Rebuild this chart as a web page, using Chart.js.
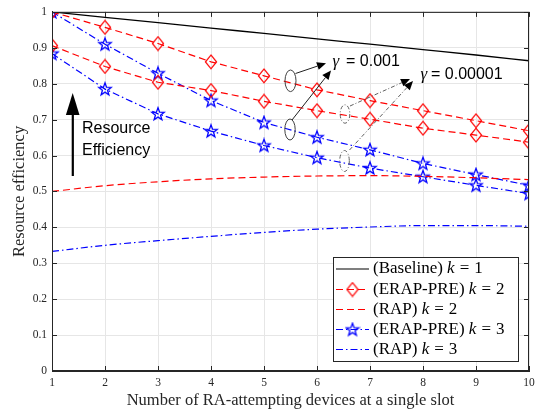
<!DOCTYPE html>
<html>
<head>
<meta charset="utf-8">
<script src="https://cdn.jsdelivr.net/npm/chart.js@4.4.1/dist/chart.umd.min.js"></script>
<style>
  html, body { margin: 0; padding: 0; background: #ffffff; }
  #wrap { width: 542px; height: 412px; }
</style>
</head>
<body>
<div id="wrap"><canvas id="c" width="542" height="412"></canvas></div>
<script>
// ---- data ----
const xValues = [1, 2, 3, 4, 5, 6, 7, 8, 9, 10];
const xTickLabels = ['1', '2', '3', '4', '5', '6', '7', '8', '9', '10'];
const yTickLabels = ['0', '0.1', '0.2', '0.3', '0.4', '0.5', '0.6', '0.7', '0.8', '0.9', '1'];

const baselineK1 = [1.0, 0.985, 0.970, 0.955, 0.940, 0.925, 0.910, 0.895, 0.880, 0.864];
const erapK2Gamma3 = [1.0, 0.957, 0.912, 0.861, 0.822, 0.783, 0.753, 0.725, 0.697, 0.669];
const erapK2Gamma5 = [0.906, 0.848, 0.804, 0.781, 0.751, 0.725, 0.701, 0.676, 0.657, 0.637];
const rapK2 = [0.500, 0.516, 0.527, 0.535, 0.540, 0.543, 0.544, 0.542, 0.538, 0.533];
const erapK3Gamma3 = [1.0, 0.910, 0.829, 0.753, 0.692, 0.651, 0.616, 0.578, 0.547, 0.517];
const erapK3Gamma5 = [0.884, 0.785, 0.716, 0.668, 0.628, 0.594, 0.565, 0.541, 0.517, 0.494];
const rapK3 = [0.333, 0.350, 0.363, 0.375, 0.386, 0.395, 0.401, 0.405, 0.405, 0.403];

const legendNames = ['(Baseline)', '(ERAP-PRE)', '(RAP)', '(ERAP-PRE)', '(RAP)'];
const legendK = ['1', '2', '2', '3', '3'];
const xTitle = 'Number of RA-attempting devices at a single slot';
const yTitle = 'Resource efficiency';
const arrowText = ['Resource', 'Efficiency'];
const gammaSymbol = 'γ';
const gammaValues = ['= 0.001', '= 0.00001'];

// ---- styles ----
const RED = 'rgb(255,0,0)';
const BLUE = 'rgb(0,0,255)';
const SERIF = '"Liberation Serif", "Times New Roman", serif';
const SANS = '"Liberation Sans", Arial, sans-serif';
const DASH = [7, 4];
const DASHDOT = [7, 3, 1.5, 3];

function makeDiamond() {
  const c = document.createElement('canvas');
  c.width = 14; c.height = 16;
  const g = c.getContext('2d');
  g.strokeStyle = RED; g.lineWidth = 1.2;
  g.beginPath();
  g.moveTo(7, 1.2); g.lineTo(12.6, 8); g.lineTo(7, 14.8); g.lineTo(1.4, 8); g.closePath();
  g.stroke();
  return c;
}
function makeStar() {
  const c = document.createElement('canvas');
  c.width = 16; c.height = 16;
  const g = c.getContext('2d');
  g.strokeStyle = BLUE; g.lineWidth = 1.3;
  const R = 6.6, r = 2.7, cx = 8, cy = 8.4;
  g.beginPath();
  for (let i = 0; i < 10; i++) {
    const a = -Math.PI / 2 + i * Math.PI / 5;
    const rad = i % 2 === 0 ? R : r;
    const px = cx + rad * Math.cos(a), py = cy + rad * Math.sin(a);
    if (i === 0) g.moveTo(px, py); else g.lineTo(px, py);
  }
  g.closePath();
  g.stroke();
  return c;
}
const diamondImg = makeDiamond();
const starImg = makeStar();

function pts(arr) { return xValues.map((x, i) => ({ x: x, y: arr[i] })); }

const datasets = [
  { data: pts(baselineK1), borderColor: '#000', borderWidth: 1.3, pointRadius: 0, cubicInterpolationMode: 'monotone' },
  { data: pts(erapK2Gamma3), borderColor: RED, borderWidth: 1.2, borderDash: DASH, pointStyle: diamondImg, pointRadius: 7 },
  { data: pts(erapK2Gamma5), borderColor: RED, borderWidth: 1.2, borderDash: DASH, pointStyle: diamondImg, pointRadius: 7 },
  { data: pts(rapK2), borderColor: RED, borderWidth: 1.2, borderDash: DASH, pointRadius: 0, cubicInterpolationMode: 'monotone' },
  { data: pts(erapK3Gamma3), borderColor: BLUE, borderWidth: 1.2, borderDash: DASHDOT, pointStyle: starImg, pointRadius: 7 },
  { data: pts(erapK3Gamma5), borderColor: BLUE, borderWidth: 1.2, borderDash: DASHDOT, pointStyle: starImg, pointRadius: 7 },
  { data: pts(rapK3), borderColor: BLUE, borderWidth: 1.2, borderDash: DASHDOT, pointRadius: 0, cubicInterpolationMode: 'monotone' }
];
datasets.forEach(d => { d.fill = false; d.backgroundColor = 'transparent'; d.tension = d.cubicInterpolationMode ? 0.4 : 0; });

function arrow(ctx, x1, y1, x2, y2, len, half, dash, color) {
  const a = Math.atan2(y2 - y1, x2 - x1);
  const bx = x2 - len * Math.cos(a), by = y2 - len * Math.sin(a);
  ctx.save();
  ctx.strokeStyle = color; ctx.lineWidth = 1;
  ctx.setLineDash(dash);
  ctx.beginPath(); ctx.moveTo(x1, y1); ctx.lineTo(bx, by); ctx.stroke();
  ctx.setLineDash([]);
  ctx.fillStyle = '#000';
  ctx.beginPath();
  ctx.moveTo(x2, y2);
  ctx.lineTo(bx + half * Math.sin(a), by - half * Math.cos(a));
  ctx.lineTo(bx - half * Math.sin(a), by + half * Math.cos(a));
  ctx.closePath(); ctx.fill();
  ctx.restore();
}
function ellipse(ctx, cx, cy, rx, ry, dash, color) {
  ctx.save();
  ctx.strokeStyle = color; ctx.lineWidth = 1;
  ctx.setLineDash(dash);
  ctx.beginPath(); ctx.ellipse(cx, cy, rx, ry, 0, 0, Math.PI * 2); ctx.stroke();
  ctx.restore();
}

const decor = {
  id: 'decor',
  afterDatasetsDraw(chart) {
    const ctx = chart.ctx;
    const a = chart.chartArea;
    const xs = chart.scales.x, ys = chart.scales.y;
    ctx.save();
    // box + inward ticks
    ctx.strokeStyle = '#262626'; ctx.lineWidth = 1;
    ctx.strokeRect(a.left + 0.5, a.top + 0.5, a.right - a.left - 1, a.bottom - a.top - 1);
    ctx.beginPath();
    xs.ticks.forEach(t => {
      const px = Math.round(xs.getPixelForValue(t.value)) + 0.5;
      ctx.moveTo(px, a.bottom); ctx.lineTo(px, a.bottom - 5);
      ctx.moveTo(px, a.top); ctx.lineTo(px, a.top + 5);
    });
    ys.ticks.forEach(t => {
      const py = Math.round(ys.getPixelForValue(t.value)) + 0.5;
      ctx.moveTo(a.left, py); ctx.lineTo(a.left + 5, py);
      ctx.moveTo(a.right, py); ctx.lineTo(a.right - 5, py);
    });
    ctx.stroke();

    // Resource Efficiency arrow
    ctx.fillStyle = '#000';
    ctx.beginPath(); ctx.moveTo(72.7, 93); ctx.lineTo(79.5, 115); ctx.lineTo(65.9, 115); ctx.closePath(); ctx.fill();
    ctx.fillRect(71.7, 114, 2.2, 62);
    ctx.font = '16px ' + SANS; ctx.textBaseline = 'alphabetic'; ctx.textAlign = 'left';
    ctx.fillText(arrowText[0], 82, 133);
    ctx.fillText(arrowText[1], 82, 155);

    // gamma annotations
    ellipse(ctx, 290.5, 80.8, 5.5, 10.8, [], '#404040');
    ellipse(ctx, 290, 129.5, 5.2, 10.5, [], '#404040');
    arrow(ctx, 295.5, 73.5, 326, 63.2, 9, 4, [], '#202020');
    arrow(ctx, 292, 120, 331, 70.5, 9, 4, [], '#202020');
    ellipse(ctx, 345, 114, 4.8, 9.2, [4, 2, 1, 2], '#606060');
    ellipse(ctx, 344.5, 161, 4.8, 10.5, [4, 2, 1, 2], '#606060');
    arrow(ctx, 350, 106, 410, 79, 9, 4, [4, 2, 1, 2], '#606060');
    arrow(ctx, 349.5, 150, 413, 81, 9, 4, [4, 2, 1, 2], '#606060');

    ctx.fillStyle = '#000';
    ctx.font = 'italic 17px ' + SERIF;
    ctx.fillText(gammaSymbol, 332.5, 66);
    ctx.fillText(gammaSymbol, 420.5, 79);
    ctx.font = '16px ' + SANS;
    ctx.fillText(gammaValues[0], 346, 66);
    ctx.fillText(gammaValues[1], 431, 79);

    // legend
    const L = 333, T = 257, R = 519, B = 362;
    ctx.fillStyle = '#fff';
    ctx.fillRect(L, T, R - L, B - T);
    ctx.strokeStyle = '#262626'; ctx.lineWidth = 1;
    ctx.strokeRect(L + 0.5, T + 0.5, R - L - 1, B - T - 1);
    const rows = [269, 289.5, 309.5, 329.5, 349.5];
    const styles = [
      { c: '#000', d: [], m: null },
      { c: RED, d: DASH, m: diamondImg },
      { c: RED, d: DASH, m: null },
      { c: BLUE, d: DASHDOT, m: starImg },
      { c: BLUE, d: DASHDOT, m: null }
    ];
    rows.forEach((y, i) => {
      const s = styles[i];
      ctx.save();
      ctx.strokeStyle = s.c; ctx.lineWidth = 1.2; ctx.setLineDash(s.d);
      ctx.beginPath(); ctx.moveTo(336, y); ctx.lineTo(369, y); ctx.stroke();
      ctx.restore();
      if (s.m) ctx.drawImage(s.m, 352.5 - s.m.width / 2, y - s.m.height / 2);
      ctx.fillStyle = '#000';
      ctx.textBaseline = 'middle';
      ctx.font = '17px ' + SERIF;
      let x = 373;
      const t1 = legendNames[i] + ' ';
      ctx.fillText(t1, x, y); x += ctx.measureText(t1).width;
      ctx.font = 'italic 17px ' + SERIF;
      ctx.fillText('k', x, y); x += ctx.measureText('k').width + 5;
      ctx.font = '17px ' + SERIF;
      ctx.fillText('=', x, y); x += ctx.measureText('=').width + 5;
      ctx.fillText(legendK[i], x, y);
    });
    ctx.restore();
  }
};

new Chart(document.getElementById('c'), {
  type: 'line',
  data: { datasets: datasets },
  options: {
    responsive: false,
    animation: false,
    events: [],
    layout: { padding: { top: 11, right: 13, left: 0, bottom: 0 } },
    plugins: { legend: { display: false }, tooltip: { enabled: false } },
    scales: {
      x: {
        type: 'linear', min: 1, max: 10,
        afterFit(s) { s.height = 41; },
        afterBuildTicks(s) { s.ticks = xValues.map(v => ({ value: v })); },
        ticks: { callback: (v) => xTickLabels[xValues.indexOf(v)], padding: 5, color: '#262626', font: { family: SERIF, size: 11.5 }, maxRotation: 0 },
        grid: { color: '#e6e6e6', lineWidth: 1, drawTicks: false },
        border: { display: true, color: '#262626' },
        title: { display: true, text: xTitle, color: '#262626', font: { family: SERIF, size: 16.5 }, padding: { top: 0, bottom: 1.5 } }
      },
      y: {
        type: 'linear', min: 0, max: 1,
        afterFit(s) { s.width = 52; },
        afterBuildTicks(s) { s.ticks = yTickLabels.map((t, i) => ({ value: i / 10 })); },
        ticks: { callback: (v) => yTickLabels[Math.round(v * 10)], padding: 5, color: '#262626', font: { family: SERIF, size: 11.5 } },
        grid: { color: '#e6e6e6', lineWidth: 1, drawTicks: false },
        border: { display: true, color: '#262626' },
        title: { display: true, text: yTitle, color: '#262626', font: { family: SERIF, size: 16.5 }, padding: { top: 10, bottom: 0 } }
      }
    }
  },
  plugins: [decor]
});
</script>
</body>
</html>
